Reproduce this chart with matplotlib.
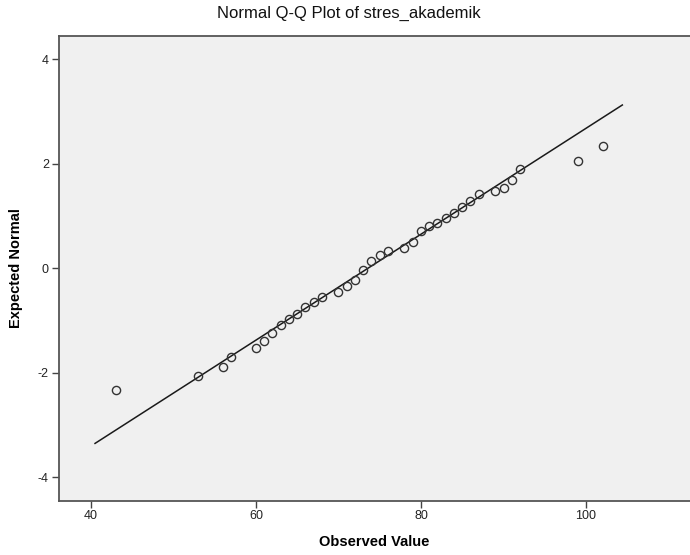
"""
Normal Q-Q Plot of stres_akademik (SPSS style)
"""

import numpy as np
import matplotlib
matplotlib.use('Agg')
import matplotlib.pyplot as plt

# observed scores and their expected normal values
observed = [43, 53, 56, 57, 60, 61, 62, 63, 64, 65, 66, 67, 68, 70, 71, 72, 73, 74,
            75, 76, 78, 79, 80, 81, 82, 83, 84, 85, 86, 87, 89, 90, 91, 92, 99, 102]
expected = [-2.33, -2.06, -1.89, -1.70, -1.52, -1.39, -1.24, -1.09, -0.98, -0.88,
            -0.75, -0.64, -0.55, -0.46, -0.34, -0.23, -0.03, 0.14, 0.25, 0.33,
            0.39, 0.50, 0.71, 0.81, 0.87, 0.95, 1.06, 1.17, 1.29, 1.42, 1.48,
            1.54, 1.68, 1.89, 2.05, 2.33]

# reference line: (x - mean) / sd
line_mean = 73.6
line_sd = 9.87
line_x = [40.5, 104.4]

x_ticks = [40, 60, 80, 100]
y_ticks = [-4, -2, 0, 2, 4]


def main():
    plt.rcParams['font.family'] = ['Liberation Sans', 'DejaVu Sans']
    plt.rcParams['axes.unicode_minus'] = False

    fig = plt.figure(figsize=(6.9, 5.55), dpi=100)
    ax = fig.add_axes([0.0851, 0.0978, 0.9149, 0.8373])
    ax.set_facecolor('#F0F0F0')

    lx = np.array(line_x)
    ax.plot(lx, (lx - line_mean) / line_sd, color='#1a1a1a', lw=1.1, zorder=2)
    ax.plot(observed, expected, linestyle='none', marker='o', markersize=5.9,
            markerfacecolor='none', markeredgecolor='#333333', markeredgewidth=1.0,
            zorder=3)

    ax.set_xlim(36.1, 112.6)
    ax.set_ylim(-4.45, 4.44)
    ax.set_xticks(x_ticks)
    ax.set_yticks(y_ticks)
    ax.tick_params(direction='out', length=5, width=1, color='#444444',
                   labelsize=9, labelcolor='#222222', pad=2)

    for side in ['left', 'top', 'bottom']:
        ax.spines[side].set_color('#555555')
        ax.spines[side].set_linewidth(1.3)
    ax.spines['right'].set_visible(False)

    ax.set_xlabel('Observed Value', fontsize=10.5, fontweight='bold', labelpad=9)
    ax.set_ylabel('Expected Normal', fontsize=10.5, fontweight='bold', labelpad=14)
    ax.yaxis.set_label_coords(-0.056, 0.5)
    fig.text(0.505, 0.976, 'Normal Q-Q Plot of stres_akademik', ha='center',
             va='center', fontsize=12, color='#111111')

    fig.savefig('out.png', dpi=100)


if __name__ == '__main__':
    main()
